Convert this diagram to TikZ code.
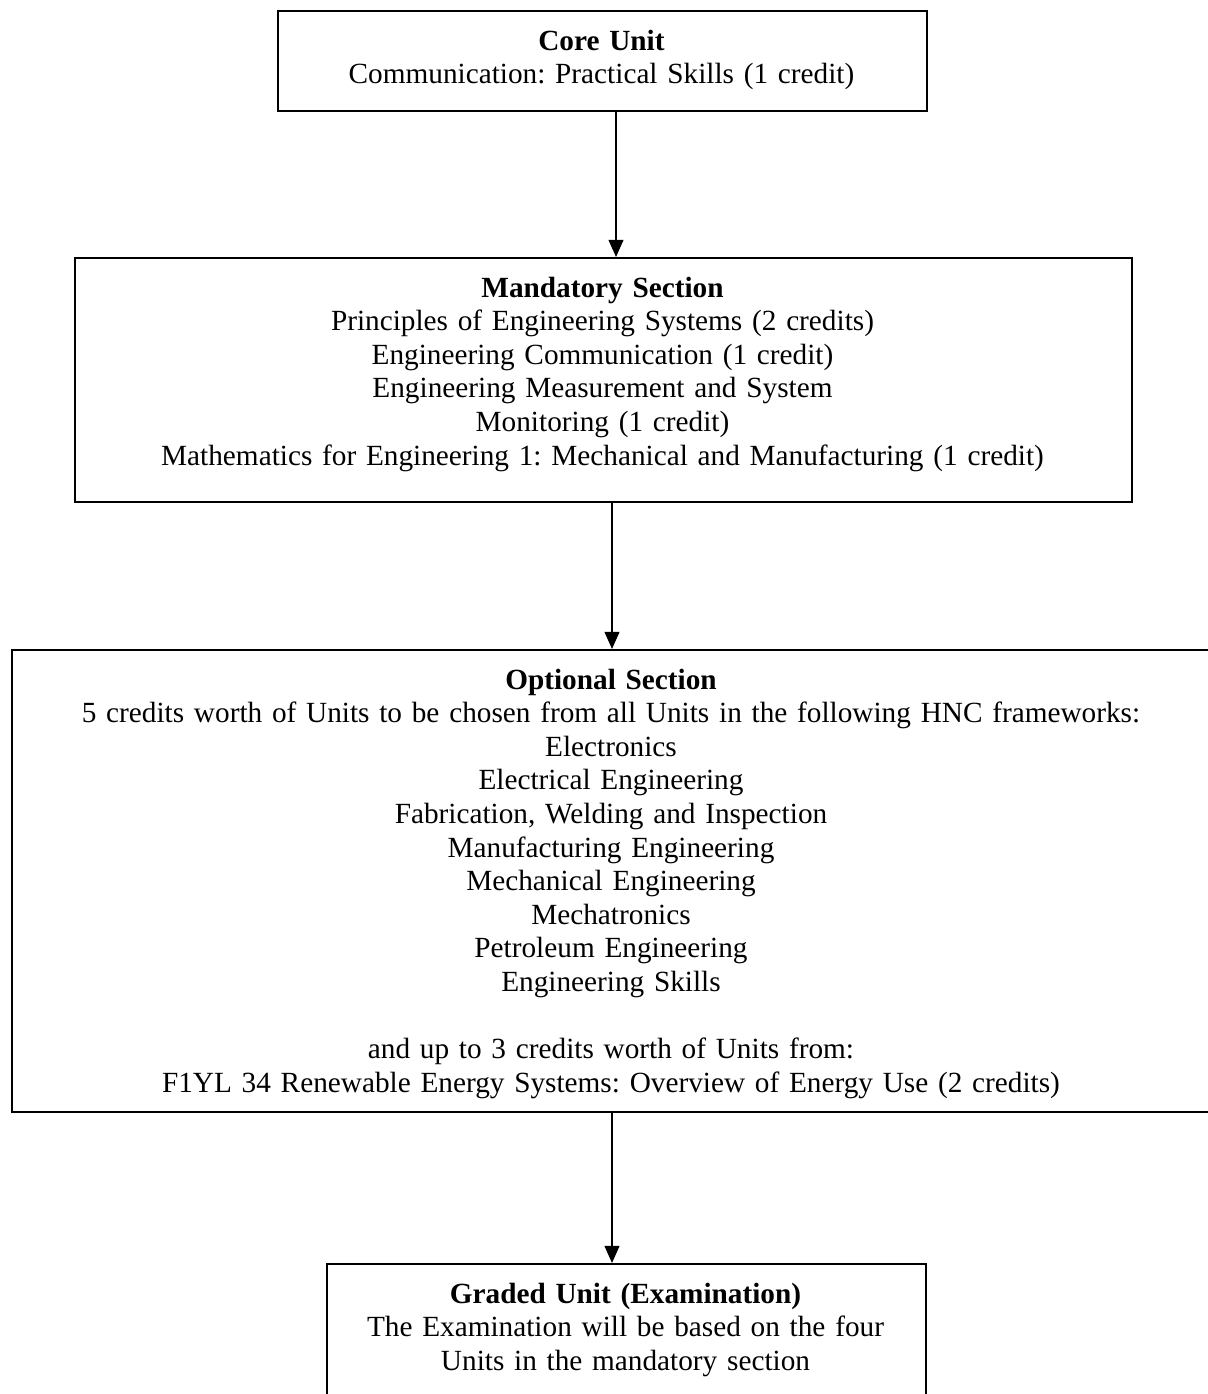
\documentclass[tikz,border=0pt]{standalone}
\usepackage{fontspec}
\setmainfont{Liberation Serif}
\usetikzlibrary{arrows.meta}
\frenchspacing
\begin{document}
\begin{tikzpicture}[x=0.41pt,y=-0.41pt,
  box/.style={draw,line width=0.8pt,inner sep=0pt,anchor=north west},
  txt/.style={align=center,text width=490pt,inner sep=0pt,anchor=base,font=\fontsize{12}{13.78}\selectfont},
  arr/.style={line width=0.8pt,-{Triangle[width=6pt,length=7pt]}}]
\clip (0,0) rectangle (1208,1394);
\useasboundingbox (0,0) rectangle (1208,1394);
% boxes
\node[box,minimum width=266.09pt,minimum height=41pt] (core) at (277,10) {};
\node[box,minimum width=433.37pt,minimum height=100.04pt] (mand) at (74,257) {};
\node[box,minimum width=492pt,minimum height=189.42pt] (opt) at (11,649) {};
\node[box,minimum width=245.59pt,minimum height=82pt] (grad) at (326,1263) {};
% texts
\node[txt] (coretext) at (601.5,50) {\textbf{Core Unit}\\
Communication: Practical Skills (1 credit)};
\node[txt] (mandtext) at (602.5,297) {\textbf{Mandatory Section}\\
Principles of Engineering Systems (2 credits)\\
Engineering Communication (1 credit)\\
Engineering Measurement and System\\
Monitoring (1 credit)\\
Mathematics for Engineering 1: Mechanical and Manufacturing (1 credit)};
\node[txt] (opttext) at (611,689) {\textbf{Optional Section}\\
5 credits worth of Units to be chosen from all Units in the following HNC frameworks:\\
Electronics\\
Electrical Engineering\\
Fabrication, Welding and Inspection\\
Manufacturing Engineering\\
Mechanical Engineering\\
Mechatronics\\
Petroleum Engineering\\
Engineering Skills\\[13.78pt]
and up to 3 credits worth of Units from:\\
F1YL 34 Renewable Energy Systems: Overview of Energy Use (2 credits)};
\node[txt] (gradtext) at (625.5,1303) {\textbf{Graded Unit (Examination)}\\
The Examination will be based on the four\\
Units in the mandatory section};
% connectors
\coordinate (a1) at (616,0);
\coordinate (a2) at (612,0);
\coordinate (a3) at (612,0);
\draw[arr] (core.south -| a1) -- (mand.north -| a1);
\draw[arr] (mand.south -| a2) -- (opt.north -| a2);
\draw[arr] (opt.south -| a3) -- (grad.north -| a3);
\end{tikzpicture}
\end{document}
